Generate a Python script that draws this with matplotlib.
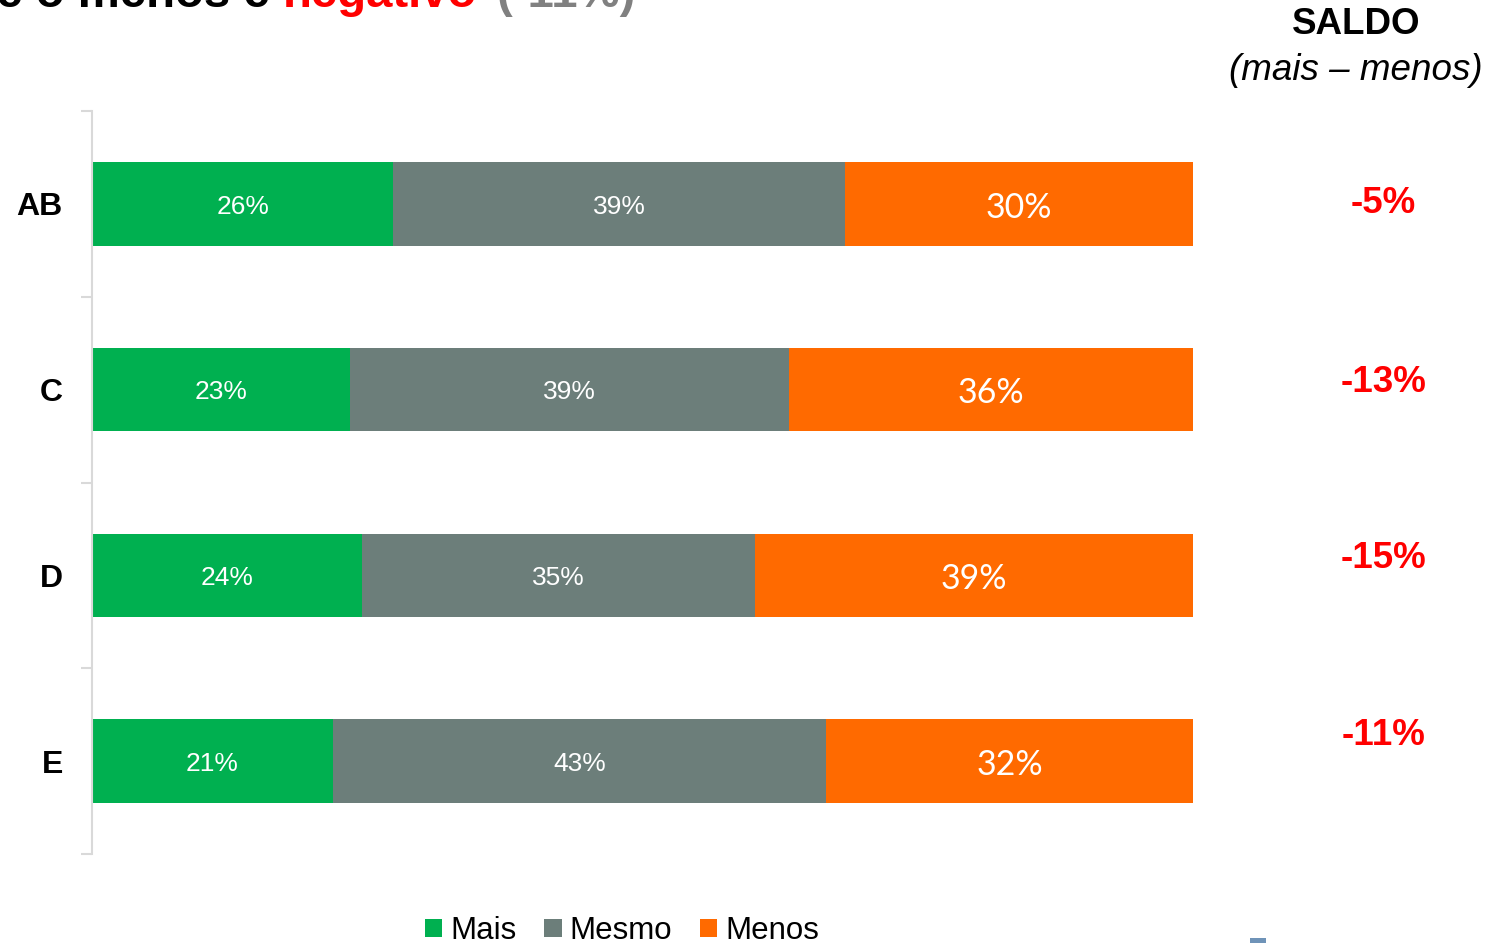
import numpy as np
import matplotlib.pyplot as plt
from matplotlib.patches import Patch, Rectangle

# dados
classes = ['AB', 'C', 'D', 'E']
mais = [26, 23, 24, 21]
mesmo = [39, 39, 35, 43]
menos = [30, 36, 39, 32]
saldo = ['-5%', '-13%', '-15%', '-11%']
series = ['Mais', 'Mesmo', 'Menos']

verde = '#00B050'
cinza = '#6C7E7A'
laranja = '#FF6A00'
vermelho = '#FF0000'

plt.rcParams['font.family'] = ['Liberation Sans', 'DejaVu Sans']

fig = plt.figure(figsize=(15.01, 9.43), dpi=100)
W, H = 1501, 943
ax = fig.add_axes([92 / W, 1 - 854 / H, 1101 / W, 743 / H])

A = np.array([mais, mesmo, menos], dtype=float)
tot = A.sum(axis=0)
P = A / tot * 100
y = np.arange(len(classes))
esq = np.zeros(len(classes))
cores = [verde, cinza, laranja]
for k in range(3):
    ax.barh(y, P[k], left=esq, height=0.45, color=cores[k], edgecolor='none')
    for i in range(len(classes)):
        cx = esq[i] + P[k][i] / 2
        if k < 2:
            ax.text(cx, y[i] + 0.015, '{}%'.format(int(A[k][i])), ha='center', va='center',
                    color='white', fontsize=19)
        else:
            ax.text(cx, y[i] + 0.02, '{}%'.format(int(A[k][i])), ha='center', va='center',
                    color='white', fontsize=24.5, family='Lato')
    esq = esq + P[k]

ax.set_xlim(0, 100)
ax.set_ylim(len(classes) - 0.5, -0.5)
for s in ['top', 'right', 'bottom']:
    ax.spines[s].set_visible(False)
ax.spines['left'].set_color('#D9D9D9')
ax.spines['left'].set_linewidth(1.5)
ax.set_xticks([])
ax.set_yticks(np.arange(-0.5, len(classes)), labels=[''] * (len(classes) + 1))
ax.tick_params(axis='y', which='major', length=8, color='#D9D9D9', width=1.5)
ax.set_yticks(y, labels=classes, minor=True)
ax.tick_params(axis='y', which='minor', length=0, pad=21, labelsize=23)
for t in ax.get_yticklabels(minor=True):
    t.set_fontweight('bold')

# saldo à direita
saldo_y = [0.0, 0.96, 1.91, 2.86]
for i in range(len(classes)):
    ax.text(117.3, saldo_y[i], saldo[i], ha='center', va='center', color=vermelho,
            fontsize=26.5, fontweight='bold', clip_on=False)
fig.text(1356 / W, 1 - 25 / H, 'SALDO', ha='center', va='center', fontsize=26.5,
         fontweight='bold')
fig.text(1356 / W, 1 - 70 / H, '(mais \u2013 menos)', ha='center', va='center',
         fontsize=26.5, style='italic')

# título cortado no topo
yb = 1 - 7 / H
fig.text(283 / W, yb, 'O saldo entre o mais e o menos é ', ha='right', va='baseline',
         fontsize=34, fontweight='bold', color='black')
fig.text(283 / W, yb, 'negativo', ha='left', va='baseline', fontsize=34,
         fontweight='bold', color=vermelho)
fig.text(497 / W, yb, '(-11%)', ha='left', va='baseline', fontsize=34,
         fontweight='bold', color='#808080')

# legenda
hs = [Patch(facecolor=c, edgecolor='none') for c in cores]
fig.legend(hs, series, loc='center', bbox_to_anchor=(622 / W, 1 - 931 / H), ncol=3,
           frameon=False, fontsize=22.5, handlelength=0.55, handleheight=0.55,
           handletextpad=0.25, columnspacing=0.9, borderpad=0)

fig.patches.append(Rectangle((1250 / W, 0), 16 / W, 5 / H, transform=fig.transFigure,
                             facecolor='#6F93B8', edgecolor='none'))

fig.savefig('out.png', dpi=100)
